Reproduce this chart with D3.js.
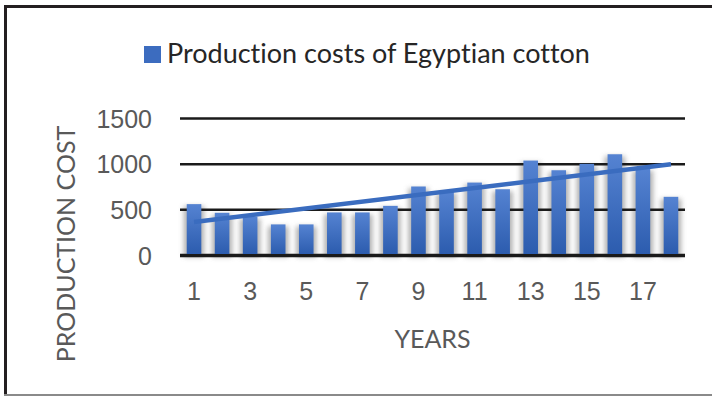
<!DOCTYPE html>
<html>
<head>
<meta charset="utf-8">
<script src="https://cdn.jsdelivr.net/npm/d3@7"></script>
<style>
  html, body { margin: 0; padding: 0; background: #fff; }
  svg { display: block; font-family: Lato, "Open Sans", sans-serif; font-variant-ligatures: none; }
</style>
</head>
<body>
<svg id="chart" width="712" height="396"></svg>
<script>
// Production cost of Egyptian cotton by year index
const years = [1, 2, 3, 4, 5, 6, 7, 8, 9, 10, 11, 12, 13, 14, 15, 16, 17, 18];
const costs = [557, 462, 420, 335, 335, 466, 466, 538, 750, 700, 793, 720, 1034, 928, 998, 1103, 946, 637];
const yTicks = [0, 500, 1000, 1500];
const xTickLabels = [1, 3, 5, 7, 9, 11, 13, 15, 17];
const seriesName = "Production costs of Egyptian cotton";
const xTitle = "YEARS";
const yTitle = "PRODUCTION COST";

const svg = d3.select("#chart");
const margin = { left: 180, right: 27, top: 118, bottom: 141 };
const W = 712, H = 396;

const x = d3.scaleBand().domain(years).range([margin.left, W - margin.right]).paddingInner(0.48).paddingOuter(0.24);
const y = d3.scaleLinear().domain([0, 1500]).range([H - margin.bottom, margin.top]);

const defs = svg.append("defs");
const grad = defs.append("linearGradient").attr("id", "barFill").attr("x1", 0).attr("y1", 0).attr("x2", 0).attr("y2", 1);
grad.append("stop").attr("offset", "0%").attr("stop-color", "#5583d2");
grad.append("stop").attr("offset", "100%").attr("stop-color", "#2c5cae");
defs.append("filter").attr("id", "soft").attr("x", "-100%").attr("y", "-20%").attr("width", "300%").attr("height", "140%")
  .append("feGaussianBlur").attr("stdDeviation", 2.6);

// frame
svg.append("line").attr("x1", 4).attr("x2", W).attr("y1", 6.5).attr("y2", 6.5).attr("stroke", "#231f20").attr("stroke-width", 3);
svg.append("line").attr("x1", 5.5).attr("x2", 5.5).attr("y1", 5).attr("y2", H).attr("stroke", "#231f20").attr("stroke-width", 3);
svg.append("line").attr("x1", 4).attr("x2", W).attr("y1", 395).attr("y2", 395).attr("stroke", "#8a8a8a").attr("stroke-width", 2);

// bar shadows
svg.append("g").selectAll("rect").data(costs).join("rect")
  .attr("x", (d, i) => x(years[i]) - 3)
  .attr("width", x.bandwidth() + 6)
  .attr("y", d => y(d) + 2)
  .attr("height", d => y(0) - y(d))
  .attr("fill", "#9a9a9a")
  .attr("opacity", 0.75)
  .attr("filter", "url(#soft)");

// gridlines and value labels
const yAxis = d3.axisLeft(y).tickValues(yTicks).tickFormat(d3.format("d"))
  .tickSize(-(W - margin.left - margin.right)).tickPadding(28);
const gy = svg.append("g").attr("transform", `translate(${margin.left},0)`).call(yAxis);
gy.select(".domain").remove();
gy.selectAll(".tick line").attr("stroke", "#1a1a1a").attr("stroke-width", d => d === 0 ? 3.5 : 2.5);
gy.selectAll(".tick text").attr("fill", "#595959").attr("font-size", 25).attr("dy", "0.36em");

// bars
svg.append("g").selectAll("rect").data(costs).join("rect")
  .attr("x", (d, i) => x(years[i]))
  .attr("width", x.bandwidth())
  .attr("y", d => y(d))
  .attr("height", d => y(0) - y(d) - 1)
  .attr("fill", "url(#barFill)");

// linear trend line (least squares fit over the series)
const n = years.length;
const mx = d3.mean(years), my = d3.mean(costs);
const slope = d3.sum(years, (v, i) => (v - mx) * (costs[i] - my)) / d3.sum(years, v => (v - mx) ** 2);
const icpt = my - slope * mx;
const trend = [years[0], years[n - 1]].map(v => [v, icpt + slope * v]);
svg.append("path")
  .attr("d", d3.line().x(d => x(d[0]) + x.bandwidth() / 2).y(d => y(d[1]))(trend))
  .attr("stroke", "#3a6cbf").attr("stroke-width", 4.5).attr("fill", "none").attr("stroke-linecap", "butt");

// x axis labels
const xAxis = d3.axisBottom(x).tickValues(xTickLabels).tickSize(0).tickPadding(27);
const gx = svg.append("g").attr("transform", `translate(0,${y(0)})`).call(xAxis);
gx.select(".domain").remove();
gx.selectAll(".tick text").attr("fill", "#595959").attr("font-size", 25);

// axis titles
svg.append("text").attr("x", (margin.left + W - margin.right) / 2).attr("y", 348)
  .attr("text-anchor", "middle").attr("fill", "#595959").attr("font-size", 25).text(xTitle);
svg.append("text").attr("transform", "translate(75,244) rotate(-90)")
  .attr("text-anchor", "middle").attr("fill", "#595959").attr("font-size", 25).text(yTitle);

// legend
svg.append("rect").attr("x", 144).attr("y", 46).attr("width", 17).attr("height", 17).attr("fill", "#3c6cbf");
svg.append("text").attr("x", 167).attr("y", 63).attr("fill", "#262626").attr("font-size", 27).text(seriesName);
</script>
</body>
</html>
